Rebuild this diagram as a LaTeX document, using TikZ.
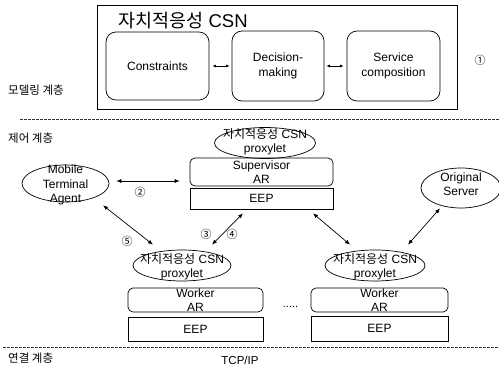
\documentclass[tikz,border=0pt]{standalone}
\usepackage{fontspec}
\setmainfont{Liberation Sans}
\newfontfamily\kr{Noto Sans CJK KR}
\usetikzlibrary{shapes.geometric,arrows.meta,calc}
\begin{document}
\begin{tikzpicture}[x=1pt,y=-1pt,
  box/.style={draw, line width=0.7pt, inner sep=0pt, align=center, font=\fontsize{12}{14}\selectfont},
  ell/.style={draw, ellipse, line width=0.7pt, inner sep=0pt},
  txt/.style={align=center, inner sep=0pt, font=\fontsize{12}{14}\selectfont},
  klabel/.style={inner sep=0pt, anchor=west, font=\kr\fontsize{11.5}{14}\selectfont},
  num/.style={inner sep=0pt, font=\kr\fontsize{11}{13}\selectfont},
  arr/.style={{Latex[length=5pt,width=4pt]}-{Latex[length=5pt,width=4pt]}, line width=0.7pt},
  sarr/.style={{Latex[length=3.5pt,width=3pt]}-{Latex[length=3.5pt,width=3pt]}, line width=0.7pt},
  sep/.style={dash pattern=on 2.5pt off 1.5pt, line width=0.5pt, black!80},
]
\useasboundingbox (0,0) rectangle (499,367);

% modelling layer
\node[box, minimum width=360pt, minimum height=104pt] (outer) at (277,57) {};
\node[txt, font=\fontsize{18.5}{20}\selectfont] (title) at (183,21) {{\kr 자치적응성} CSN};
\node[box, rounded corners=10pt, minimum width=103pt, minimum height=68pt] (cons) at (157.5,66) {Constraints};
\node[box, rounded corners=10pt, minimum width=92pt, minimum height=70pt, font=\fontsize{12}{15.5}\selectfont] (dec) at (278,66) {Decision-\\making};
\node[box, rounded corners=10pt, minimum width=93pt, minimum height=70pt, font=\fontsize{12}{15.5}\selectfont] (svc) at (393.5,66) {Service\\composition};
\draw[sarr, shorten <=3pt, shorten >=2pt] (cons.east) -- (dec.west);
\draw[sarr, shorten <=2pt, shorten >=3pt] (dec.east) -- (svc.west);
\node[num] (n1) at (480,60) {①};

% layer labels and separators
\node[klabel] (l1) at (8,90) {모델링 계층};
\node[klabel] (l2) at (8,138) {제어 계층};
\node[klabel] (l3) at (8,358) {연결 계층};
\draw[sep] (20,119) -- (499,119);
\draw[sep] (3,347) -- (499,347);

% supervisor
\node[ell, minimum width=101pt, minimum height=31pt] (sp) at (265,143) {};
\node[txt] (spt) at (265,142) {{\kr 자치적응성} CSN\\proxylet};
\node[box, rounded corners=5pt, minimum width=143pt, minimum height=28pt] (sup) at (261.5,172) {Supervisor\\AR};
\node[box, minimum width=143pt, minimum height=21pt] (seep) at (261.5,198.5) {EEP};

% mobile terminal agent
\node[ell, minimum width=87pt, minimum height=37pt] (mta) at (65.5,183.5) {};
\node[txt, font=\fontsize{12}{14.5}\selectfont] (mtat) at (65.5,185) {Mobile\\Terminal\\Agent};

% original server
\node[ell, minimum width=80pt, minimum height=40pt] (os) at (461,188) {};
\node[txt, font=\fontsize{12}{14.5}\selectfont] (ost) at (461,184) {Original\\Server};

% left worker
\node[ell, minimum width=98pt, minimum height=31pt] (lp) at (182,265.5) {};
\node[txt] (lpt) at (182,267) {{\kr 자치적응성} CSN\\proxylet};
\node[box, rounded corners=5pt, minimum width=135pt, minimum height=24pt] (lw) at (195.5,300) {Worker\\AR};
\node[box, minimum width=135pt, minimum height=24pt] (leep) at (195.5,329) {EEP};

% right worker
\node[ell, minimum width=100pt, minimum height=31pt] (rp) at (375,265.5) {};
\node[txt] (rpt) at (375,267) {{\kr 자치적응성} CSN\\proxylet};
\node[box, rounded corners=5pt, minimum width=137pt, minimum height=24pt] (rw) at (379.5,300) {Worker\\AR};
\node[box, minimum width=137pt, minimum height=25pt] (reep) at (379.5,328.5) {EEP};

\node[txt, anchor=base, font=\fontsize{11}{13}\selectfont] (dots) at (290.5,307) {.....};
\node[txt, font=\fontsize{11.5}{13}\selectfont] (tcp) at (240,360) {TCP/IP};

% connectors
\draw[arr] ([xshift=7pt,yshift=2.5pt]mta.east) -- ([xshift=-10pt,yshift=-9pt]sup.west);
\node[num] (n2) at (140,192) {②};
\draw[arr] ([xshift=37.5pt,yshift=-3pt]mta.south) -- ([xshift=-29pt,yshift=5pt]lp.north);
\node[num] (n5) at (127,241) {⑤};
\draw[arr] ([xshift=30pt,yshift=5pt]lp.north) -- ([xshift=-18.5pt,yshift=-4pt]seep.south);
\node[num] (n3) at (206,234) {③};
\node[num] (n4) at (232,234) {④};
\draw[arr] ([xshift=51.5pt,yshift=-4pt]seep.south) -- ([xshift=-25pt,yshift=5pt]rp.north);
\draw[arr] ([xshift=33pt,yshift=5pt]rp.north) -- ([xshift=-21pt,yshift=0pt]os.south);
\end{tikzpicture}
\end{document}
